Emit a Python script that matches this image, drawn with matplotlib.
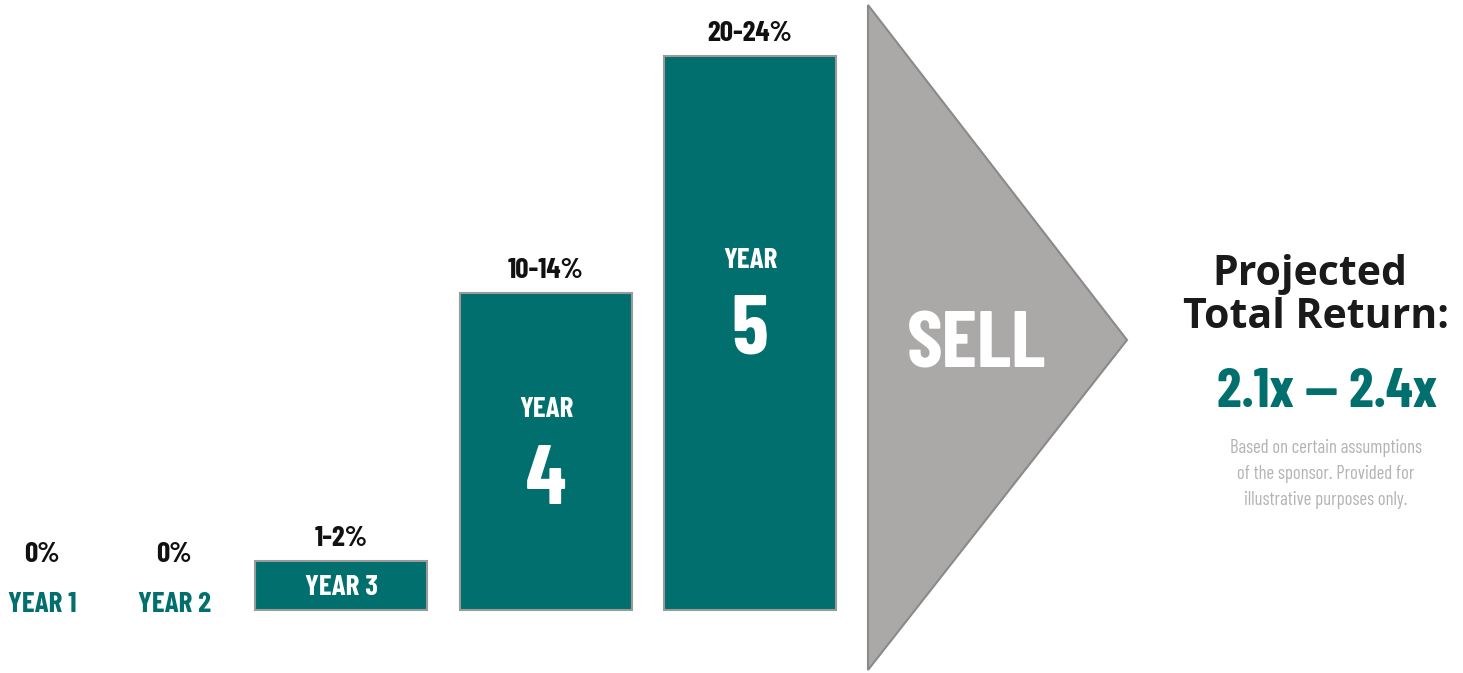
import matplotlib
matplotlib.use('Agg')
import matplotlib.pyplot as plt
from matplotlib.patches import Polygon

teal = '#006f6e'
grey = '#aba8a8'

years = ['YEAR 1', 'YEAR 2', 'YEAR 3', 'YEAR 4', 'YEAR 5']
returns = ['0%', '0%', '1-2%', '10-14%', '20-24%']
bar_heights = [0, 0, 49, 317, 554]
bar_x = [42, 174, 341, 546, 750]

cond = ['Barlow Condensed', 'Roboto Condensed', 'DejaVu Sans']

fig = plt.figure(figsize=(14.63, 6.73), dpi=100)
ax = fig.add_axes([0, 0, 1, 1])
ax.set_xlim(0, 1463)
ax.set_ylim(-63, 610)
ax.axis('off')

def label(x, y, s, color, size, weight='bold'):
    ax.text(x, y, s, ha='center', va='baseline', color=color, fontsize=size,
            fontweight=weight, family=cond, stretch='condensed')

# offsets (below bar top) for the big "YEAR / n" labels
big_year_off = {3: 124, 4: 212}
big_num_off = {3: 211, 4: 298}

for i in range(len(years)):
    h = bar_heights[i]
    if h > 0:
        ax.bar(bar_x[i], h, width=172, bottom=0, color=teal,
               edgecolor='#9a9a9a', linewidth=1.5)
    if i < 2:
        label(bar_x[i], -2, years[i], teal, 21)
        label(bar_x[i], 48, returns[i], '#111111', 21)
    elif i == 2:
        label(bar_x[i], 15, years[i], 'white', 21)
        label(bar_x[i], h + 15, returns[i], '#111111', 21)
    else:
        label(bar_x[i], h - big_year_off[i], 'YEAR', 'white', 21)
        label(bar_x[i], h - big_num_off[i], years[i].split()[1], 'white', 60)
        label(bar_x[i], h + 15, returns[i], '#111111', 21)

# sell arrow
tri = Polygon([(868, 605), (868, -60), (1127, 270)], closed=True,
              facecolor=grey, edgecolor='#8a8a8a', linewidth=1.5)
ax.add_patch(tri)
label(977, 242, 'SELL', 'white', 58)

ax.text(1310, 325, 'Projected', ha='center', va='baseline', color='#1a1a1a',
        fontsize=29.5, fontweight='bold', family='Open Sans')
ax.text(1316, 282, 'Total Return:', ha='center', va='baseline', color='#1a1a1a',
        fontsize=29.5, fontweight='bold', family='Open Sans')
label(1327, 203, '2.1x — 2.4x', teal, 40)
ax.text(1326, 157, 'Based on certain assumptions', ha='center', va='baseline',
        color='#b3b3b3', fontsize=13.5, family=cond, stretch='condensed')
ax.text(1326, 131, 'of the sponsor. Provided for', ha='center', va='baseline',
        color='#b3b3b3', fontsize=13.5, family=cond, stretch='condensed')
ax.text(1326, 105, 'illustrative purposes only.', ha='center', va='baseline',
        color='#b3b3b3', fontsize=13.5, family=cond, stretch='condensed')

fig.savefig('out.png', dpi=100)
